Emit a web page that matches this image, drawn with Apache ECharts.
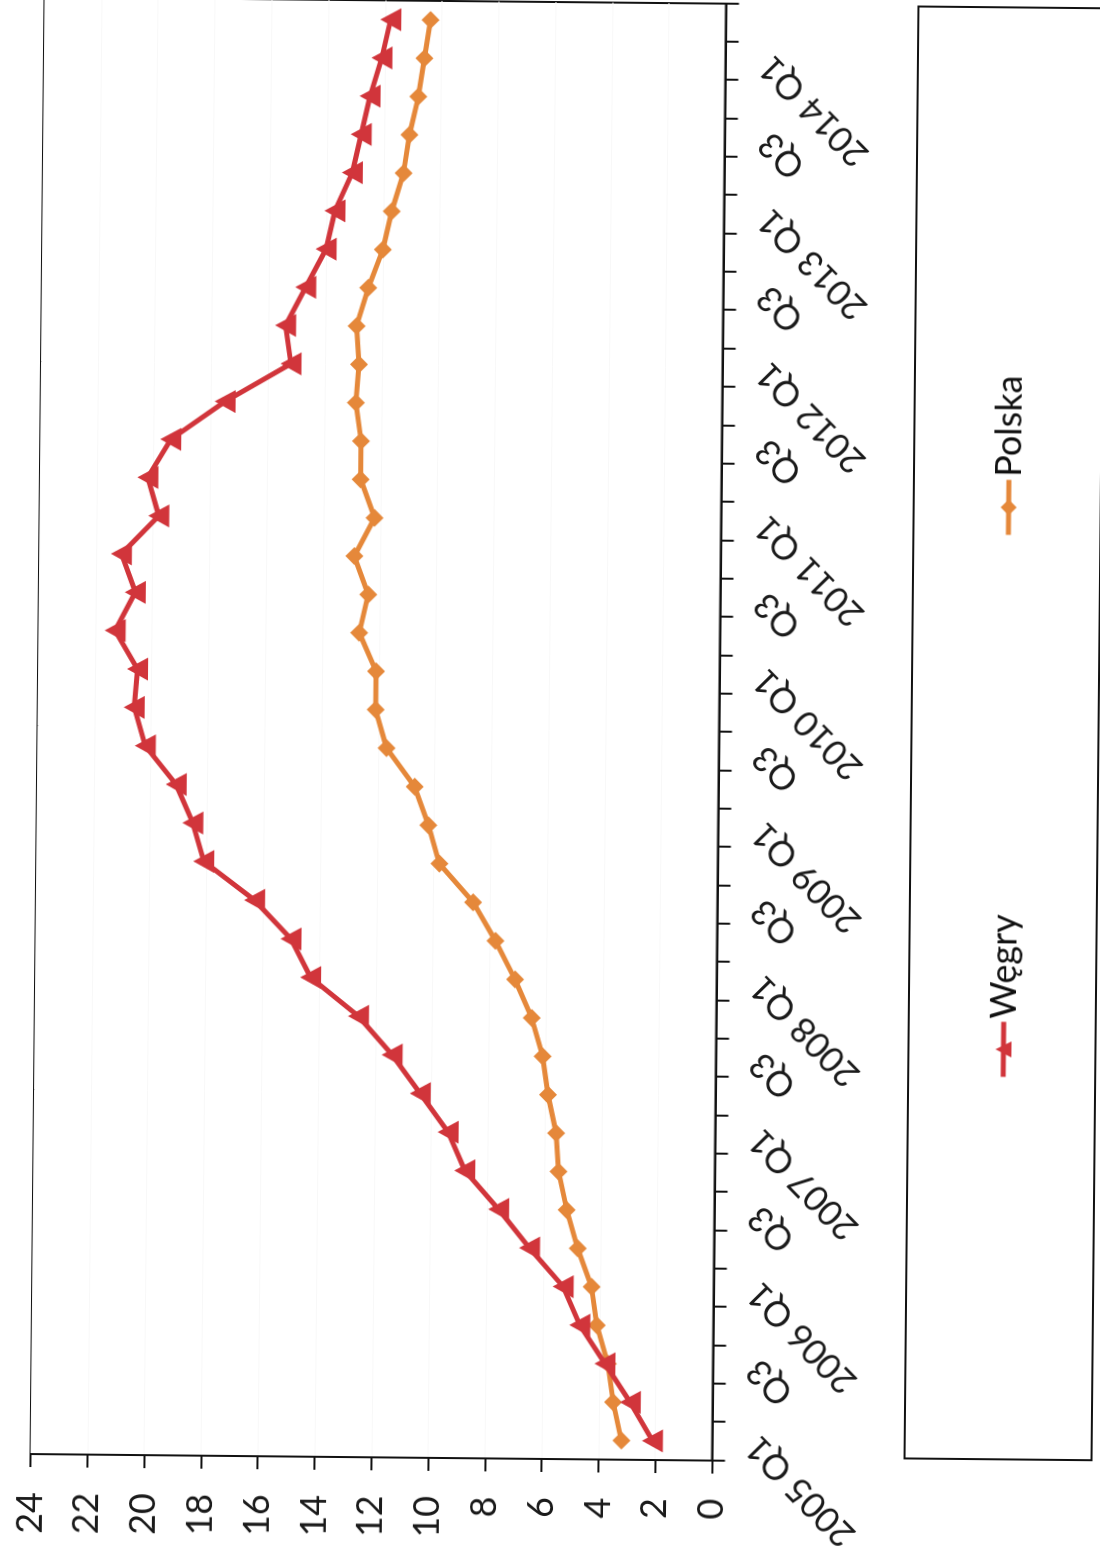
<!DOCTYPE html>
<html>
<head>
<meta charset="utf-8">
<script src="https://cdn.jsdelivr.net/npm/echarts@6/dist/echarts.min.js"></script>
<style>
  html, body { margin: 0; padding: 0; width: 1100px; height: 1564px; overflow: hidden; background: #fff; }
  /* the chart is laid out landscape and turned onto the portrait page */
  #chart {
    position: absolute;
    width: 1564px; height: 1100px;
    left: -232px; top: 232px;
    transform-origin: 50% 50%;
    transform: rotate(-89.45deg);
    background: #fff;
  }
</style>
</head>
<body>
<div id="chart"></div>
<script>
// quarterly categories, labelled with the year on Q1
const categories = [
  '2005 Q1','Q2','Q3','Q4',
  '2006 Q1','Q2','Q3','Q4',
  '2007 Q1','Q2','Q3','Q4',
  '2008 Q1','Q2','Q3','Q4',
  '2009 Q1','Q2','Q3','Q4',
  '2010 Q1','Q2','Q3','Q4',
  '2011 Q1','Q2','Q3','Q4',
  '2012 Q1','Q2','Q3','Q4',
  '2013 Q1','Q2','Q3','Q4',
  '2014 Q1','Q2'
];

const seriesNames = ['Węgry', 'Polska'];

const wegry = [2.1, 2.9, 3.8, 4.7, 5.3, 6.5, 7.6, 8.8, 9.4, 10.4, 11.4, 12.6, 14.3, 15.0, 16.3, 18.1, 18.5, 19.1, 20.2, 20.6,
               20.5, 21.3, 20.6, 21.1, 19.8, 20.2, 19.4, 17.5, 15.2, 15.4, 14.7, 14.0, 13.7, 13.1, 12.8, 12.5, 12.1, 11.8];

const polska = [3.2, 3.5, 3.7, 4.1, 4.3, 4.8, 5.2, 5.5, 5.6, 5.9, 6.1, 6.5, 7.1, 7.8, 8.6, 9.8, 10.2, 10.7, 11.7, 12.1,
                12.1, 12.7, 12.4, 12.9, 12.2, 12.7, 12.7, 12.9, 12.8, 12.9, 12.5, 12.0, 11.7, 11.3, 11.1, 10.8, 10.6, 10.4];

const valueMin = 0, valueMax = 24, valueStep = 2;

const FONT = 'Lato, "Open Sans", "DejaVu Sans", sans-serif';
const colors = { wegry: '#d1353b', polska: '#e5883a' };

const chart = echarts.init(document.getElementById('chart'), null, { renderer: 'canvas' });

const legendBase = {
  top: 983,
  itemWidth: 55, itemHeight: 20, itemGap: 0,
  lineStyle: { width: 5 },
  textStyle: { fontFamily: FONT, fontSize: 36, color: '#111', padding: [0, 0, 0, -2] }
};

chart.setOption({
  animation: false,
  backgroundColor: '#fff',
  grid: {
    left: 105, top: 37, width: 1457, height: 681.5,
    show: true, borderColor: '#111', borderWidth: 2, backgroundColor: 'transparent'
  },
  xAxis: {
    type: 'category',
    data: categories,
    boundaryGap: true,
    axisLine: { show: true, lineStyle: { color: '#111', width: 2 } },
    axisTick: { show: true, interval: 0, alignWithLabel: false, length: 13, lineStyle: { color: '#111', width: 2 } },
    axisLabel: {
      interval: 1, rotate: 45, margin: 40,
      fontFamily: FONT, fontSize: 35, color: '#1a1a1a'
    },
    splitLine: { show: false }
  },
  yAxis: {
    type: 'value',
    min: valueMin, max: valueMax, interval: valueStep,
    axisLine: { show: true, lineStyle: { color: '#111', width: 2 } },
    axisTick: { show: true, length: 13, lineStyle: { color: '#111', width: 2 } },
    axisLabel: { margin: 38, fontFamily: FONT, fontSize: 36, color: '#1a1a1a' },
    splitLine: { show: true, lineStyle: { color: '#f8f8f8', width: 1 } }
  },
  legend: [
    Object.assign({ data: [seriesNames[0]], left: 484 }, legendBase),
    Object.assign({ data: [seriesNames[1]], left: 1026 }, legendBase)
  ],
  graphic: [
    {
      type: 'rect',
      shape: { x: 109, y: 911, width: 1452, height: 187 },
      style: { fill: 'transparent', stroke: '#111', lineWidth: 2 },
      silent: true
    }
  ],
  series: [
    {
      name: seriesNames[0],
      type: 'line',
      data: wegry,
      symbol: 'triangle',
      symbolSize: [23, 21],
      showAllSymbol: true,
      lineStyle: { color: colors.wegry, width: 5 },
      itemStyle: { color: colors.wegry, borderWidth: 0 },
      z: 3
    },
    {
      name: seriesNames[1],
      type: 'line',
      data: polska,
      symbol: 'diamond',
      symbolSize: [18, 18],
      showAllSymbol: true,
      lineStyle: { color: colors.polska, width: 5 },
      itemStyle: { color: colors.polska, borderWidth: 0 },
      z: 2
    }
  ]
});
</script>
</body>
</html>
